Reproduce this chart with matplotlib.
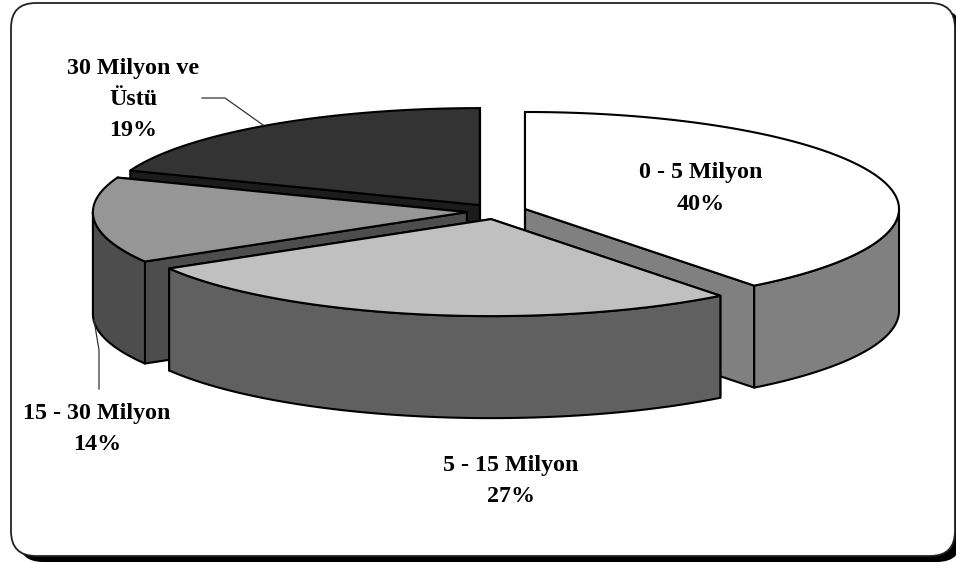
import numpy as np
import matplotlib
matplotlib.use("Agg")
import matplotlib.pyplot as plt
from matplotlib.patches import FancyBboxPatch, Polygon

# Share of each income band, in percent
bands = ["0 - 5 Milyon", "5 - 15 Milyon", "15 - 30 Milyon", "30 Milyon ve\nÜstü"]
shares = [39.5, 27.0, 14.3, 19.2]

top_colors = ["#ffffff", "#c0c0c0", "#969696", "#333333"]
side_colors = ["#808080", "#606060", "#4d4d4d", "#1c1c1c"]

# Slices painted back to front
paint_order = [3, 0, 2, 1]

CX, CY = 496.7, 211.5
RX, RY = 374.0, 97.0
DEPTH = 102.0
EXPLODE = 0.08
LW = 1.5

fig = plt.figure(figsize=(9.56, 5.62), dpi=100, facecolor="white")
ax = fig.add_axes([0, 0, 1, 1])
ax.set_xlim(0, 956)
ax.set_ylim(562, 0)
ax.axis("off")

# Rounded frame with a hard drop shadow, running off the right edge
style = "round,pad=0,rounding_size=25"
ax.add_patch(FancyBboxPatch((18, 9), 944, 553, boxstyle=style, fc="black", ec="none", zorder=0))
ax.add_patch(FancyBboxPatch((11, 3), 944, 553, boxstyle=style, fc="white", ec="#222222", lw=1.3, zorder=1))

edges = np.cumsum([0] + shares) / sum(shares) * 2 * np.pi


def rim(theta, ox, oy, dz=0.0):
    return np.column_stack([ox + RX * np.sin(theta), oy - RY * np.cos(theta) + dz])


z = 2
for i in paint_order:
    a0, a1 = edges[i], edges[i + 1]
    mid = (a0 + a1) / 2
    ox = CX + EXPLODE * RX * np.sin(mid)
    oy = CY - EXPLODE * RY * np.cos(mid)
    apex = np.array([ox, oy])
    drop = np.array([0, DEPTH])

    # Radial cut faces, the far one first
    for a in (a1, a0):
        p = rim(np.array([a]), ox, oy)[0]
        ax.add_patch(Polygon([apex, p, p + drop, apex + drop], closed=True,
                             fc=side_colors[i], ec="black", lw=LW, joinstyle="round", zorder=z))
        z += 1

    # Outer wall, only the front-facing stretch of the rim
    lo, hi = max(a0, np.pi / 2), min(a1, 3 * np.pi / 2)
    if hi > lo:
        t = np.linspace(lo, hi, 120)
        wall = np.vstack([rim(t, ox, oy), rim(t[::-1], ox, oy, DEPTH)])
        ax.add_patch(Polygon(wall, closed=True, fc=side_colors[i], ec="black",
                             lw=LW, joinstyle="round", zorder=z))
        z += 1

    # Top face
    t = np.linspace(a0, a1, 200)
    ax.add_patch(Polygon(np.vstack([apex, rim(t, ox, oy)]), closed=True, fc=top_colors[i],
                         ec="black", lw=LW, joinstyle="round", zorder=z))
    z += 1

# Leader lines for the two outer labels
ax.plot([202, 225, 263], [98, 98, 125], color="#333333", lw=0.9, zorder=z)
ax.plot([94, 99, 99], [320, 350, 389], color="#333333", lw=0.9, zorder=z)

# Band labels
label_anchor = [(701, 188.5), (511, 481), (97, 429), (133, 99.5)]
for name, share, (x, y) in zip(bands, shares, label_anchor):
    ax.text(x, y, f"{name}\n{share:.0f}%", ha="center", va="center", ma="center",
            family="Liberation Serif", fontweight="bold", fontsize=17.3, color="black",
            linespacing=1.64, zorder=z + 1)

fig.savefig("out.png", dpi=100)
